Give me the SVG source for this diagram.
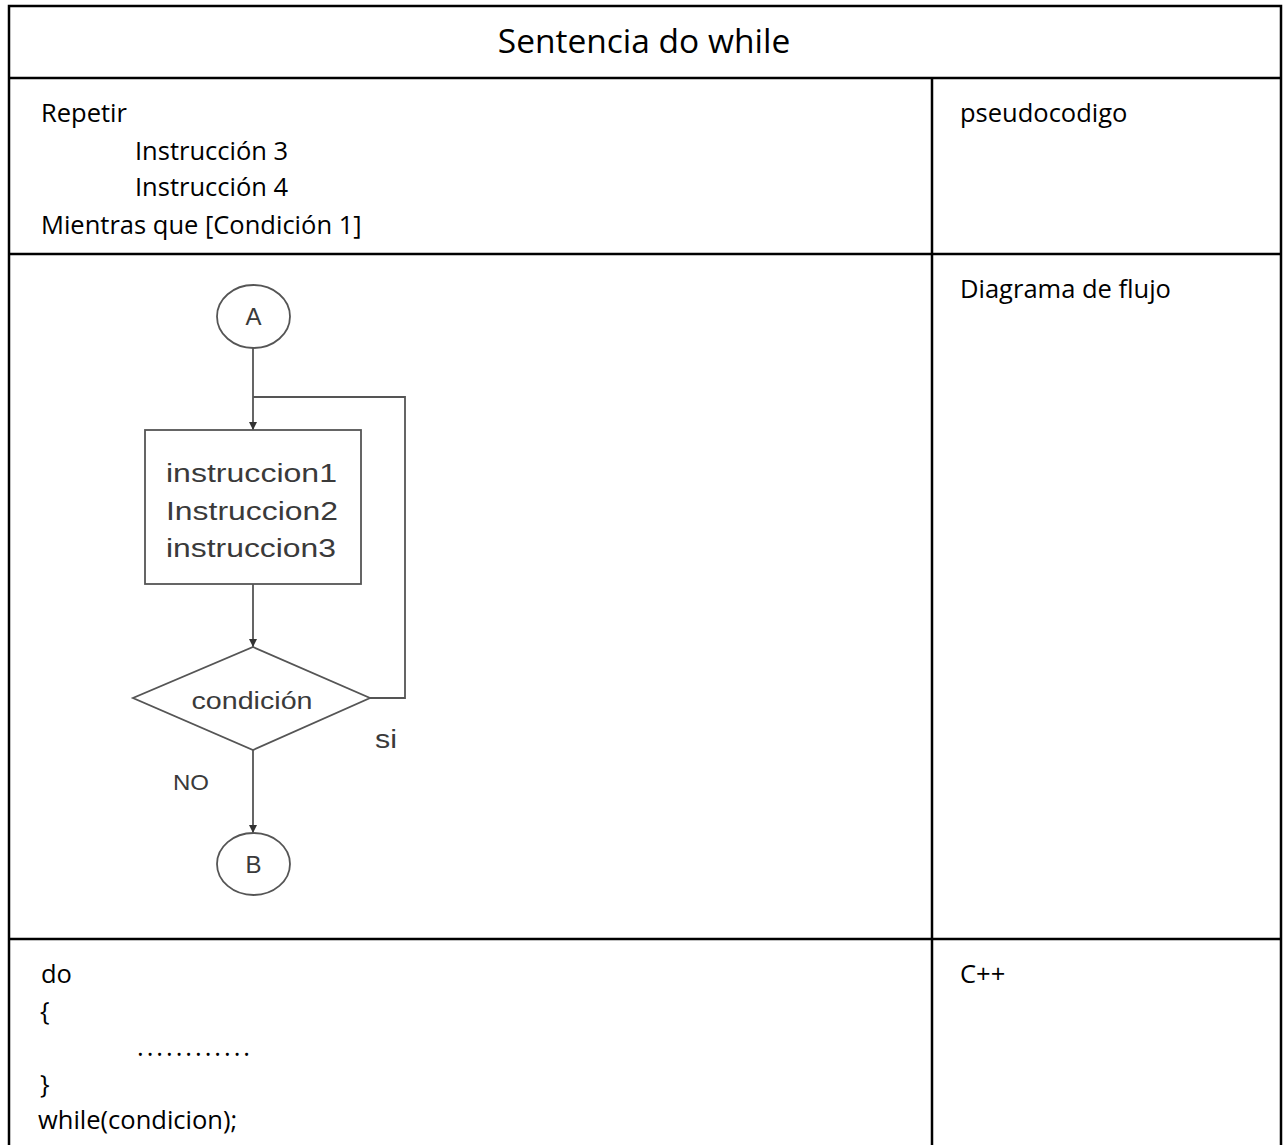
<svg xmlns="http://www.w3.org/2000/svg" width="1283" height="1145" viewBox="0 0 1283 1145">
<style>
.t{font-family:"Open Sans","Liberation Sans",sans-serif;fill:#000;font-size:25.5px}
.title{font-size:33.5px}
.f{font-family:"Liberation Sans",Arial,sans-serif;fill:#3a3a3a}
.grid{stroke:#000;stroke-width:2.5;fill:none}
.fl{stroke:#555;stroke-width:1.8;fill:none}
</style>
<defs>
<marker id="ah" viewBox="0 0 10 10" refX="10" refY="5" markerWidth="8" markerHeight="8" orient="auto" markerUnits="userSpaceOnUse">
<path d="M0,0 L10,5 L0,10 z" fill="#333"/>
</marker>
</defs>
<rect width="1283" height="1145" fill="#fff"/>
<text x="29" y="-3" font-family="Liberation Sans,sans-serif" font-size="17" fill="#5b9bd5">pg</text>
<g id="table">
<path class="grid" d="M9,1145 V6 H1281 V1145 M9,78 H1281 M932,78 V1145 M9,254 H1281 M9,939 H1281"/>
</g>
<g id="title"><text class="t title" x="644" y="53" text-anchor="middle">Sentencia do while</text></g>
<g id="pseudocode">
<text class="t" x="41" y="122">Repetir</text>
<text class="t" x="135" y="160">Instrucción 3</text>
<text class="t" x="135" y="196">Instrucción 4</text>
<text class="t" x="41" y="234">Mientras que [Condición 1]</text>
</g>
<g id="labels">
<text class="t" x="960" y="122">pseudocodigo</text>
<text class="t" x="960" y="298">Diagrama de flujo</text>
<text class="t" x="960" y="983">C++</text>
</g>
<g id="cpp">
<text class="t" x="41" y="983">do</text>
<text class="t" x="40" y="1020">{</text>
<text class="t" x="137" y="1056" textLength="113" lengthAdjust="spacing">............</text>
<text class="t" x="40" y="1093">}</text>
<text class="t" x="38" y="1129">while(condicion);</text>
</g>
<g id="connectors">
<line class="fl" x1="253" y1="348" x2="253" y2="430" marker-end="url(#ah)"/>
<line class="fl" x1="253" y1="584" x2="253" y2="647" marker-end="url(#ah)"/>
<line class="fl" x1="253" y1="750" x2="253" y2="833" marker-end="url(#ah)"/>
<polyline class="fl" points="370,698 405,698 405,397 253,397"/>
<text class="f" x="375" y="748" font-size="25" textLength="22" lengthAdjust="spacingAndGlyphs">si</text>
<text class="f" x="173" y="790" font-size="22" textLength="36" lengthAdjust="spacingAndGlyphs">NO</text>
</g>
<g id="nodeA">
<ellipse class="fl" cx="253.5" cy="316.5" rx="36.5" ry="31.5" fill="#fff"/>
<text class="f" x="253.5" y="325" text-anchor="middle" font-size="24">A</text>
</g>
<g id="nodeBox">
<rect class="fl" x="145" y="430" width="216" height="154" fill="#fff"/>
<text class="f" x="166" y="482" font-size="26" textLength="171" lengthAdjust="spacingAndGlyphs">instruccion1</text>
<text class="f" x="166" y="520" font-size="26" textLength="172" lengthAdjust="spacingAndGlyphs">Instruccion2</text>
<text class="f" x="166" y="557" font-size="26" textLength="170" lengthAdjust="spacingAndGlyphs">instruccion3</text>
</g>
<g id="nodeCond">
<polygon class="fl" points="253,647 370,698 253,750 133,698" fill="#fff"/>
<text class="f" x="252" y="709" text-anchor="middle" font-size="23" textLength="121" lengthAdjust="spacingAndGlyphs">condición</text>
</g>
<g id="nodeB">
<ellipse class="fl" cx="253.5" cy="864" rx="36.5" ry="31" fill="#fff"/>
<text class="f" x="253.5" y="873" text-anchor="middle" font-size="24">B</text>
</g>
</svg>
